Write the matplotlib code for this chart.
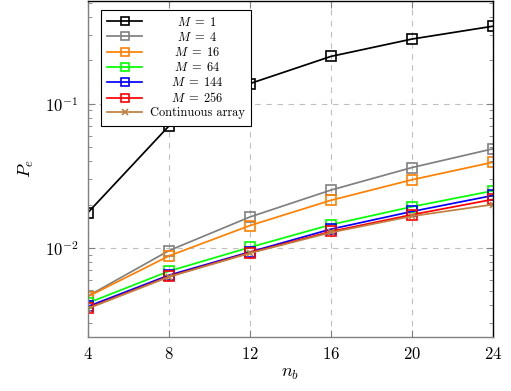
import matplotlib
matplotlib.use("Agg")
import matplotlib.pyplot as plt
from matplotlib.ticker import LogLocator, NullFormatter

plt.rcParams['font.family'] = 'serif'
plt.rcParams['font.serif'] = ['cmr10']
plt.rcParams['mathtext.fontset'] = 'cm'
plt.rcParams['axes.formatter.use_mathtext'] = True

nb = [4, 8, 12, 16, 20, 24]
pe_m1 = [0.0176, 0.0702, 0.138, 0.213, 0.281, 0.345]
pe_m4 = [0.00464, 0.00958, 0.0164, 0.0252, 0.0361, 0.0487]
pe_m16 = [0.00460, 0.0088, 0.0143, 0.0214, 0.0297, 0.0393]
pe_m64 = [0.00415, 0.0069, 0.0101, 0.0145, 0.0193, 0.0249]
pe_m144 = [0.00393, 0.00647, 0.00938, 0.0135, 0.0179, 0.0231]
pe_m256 = [0.00383, 0.00634, 0.00927, 0.0130, 0.0170, 0.0217]
pe_cont = [0.00380, 0.0063, 0.0092, 0.0128, 0.0166, 0.0200]

series = [
    (pe_m1, r'$M\;=\;1$', 'black', 's'),
    (pe_m4, r'$M\;=\;4$', (0.5, 0.5, 0.5), 's'),
    (pe_m16, r'$M\;=\;16$', (1.0, 0.5, 0.0), 's'),
    (pe_m64, r'$M\;=\;64$', (0.0, 1.0, 0.0), 's'),
    (pe_m144, r'$M\;=\;144$', (0.0, 0.0, 1.0), 's'),
    (pe_m256, r'$M\;=\;256$', (1.0, 0.0, 0.0), 's'),
    (pe_cont, 'Continuous array', (0.75, 0.5, 0.25), 'x'),
]

fig = plt.figure(figsize=(5.11, 3.91), dpi=100)
ax = fig.add_axes([88/511, (391-336.5)/391, (493-88)/511, 336/391])

for ys, lab, col, mk in series:
    if mk == 's':
        ax.plot(nb, ys, color=col, lw=1.25, marker='s', ms=7, mfc='none',
                mec=col, mew=1.2, label=lab)
    else:
        ax.plot(nb, ys, color=col, lw=1.25, marker='x', ms=4, mew=1.2, label=lab)

ax.set_yscale('log')
ax.set_xlim(4, 24)
ax.set_ylim(2.43e-3, 0.52)
ax.set_xticks(nb)
ax.yaxis.set_major_locator(LogLocator(base=10, numticks=10))
ax.yaxis.set_minor_locator(LogLocator(base=10, subs=range(2, 10), numticks=20))
ax.yaxis.set_minor_formatter(NullFormatter())
ax.grid(True, which='major', ls=(0, (5, 5)), color=(0.75, 0.75, 0.75), lw=0.8)
ax.tick_params(which='both', direction='in', top=True, right=True, labelsize=12,
               color=(0.5, 0.5, 0.5))
ax.tick_params(which='major', length=5, pad=7)
ax.tick_params(which='minor', length=3)
for s in ['left', 'bottom']:
    ax.spines[s].set_color((0.5, 0.5, 0.5))
for s in ['right', 'top']:
    ax.spines[s].set_color('black')
for s in ax.spines.values():
    s.set_linewidth(1.0)

ax.set_xlabel(r'$n_b$', fontsize=13, labelpad=3)
ax.set_ylabel(r'$P_e$', fontsize=13, labelpad=6)

leg = ax.legend(loc='upper left', bbox_to_anchor=(13/405, 1 - 9/336), fontsize=8.9,
                frameon=True, fancybox=False, edgecolor='black', framealpha=1,
                handlelength=2.85, handletextpad=0.6, borderpad=0.5,
                labelspacing=0.17, borderaxespad=0)
leg.get_frame().set_linewidth(0.8)
for h in leg.legend_handles:
    if h.get_marker() == 's':
        h.set_markersize(5.5)

# center label texts within the text column
fig.canvas.draw()
r = fig.canvas.get_renderer()
texts = leg.get_texts()
widths = [t.get_window_extent(r).width for t in texts]
W = max(widths)
t0 = texts[0]
orig = t0.get_text()
t0.set_text(r'$\hspace{1}' + orig[1:])
em = t0.get_window_extent(r).width - widths[0]
t0.set_text(orig)
for t, w in zip(texts, widths):
    s = t.get_text()
    if s.startswith('$') and W - w > 1:
        t.set_text(r'$\hspace{%.3f}' % ((W - w) / 2 / em) + s[1:])

fig.savefig('out.png', dpi=100)
